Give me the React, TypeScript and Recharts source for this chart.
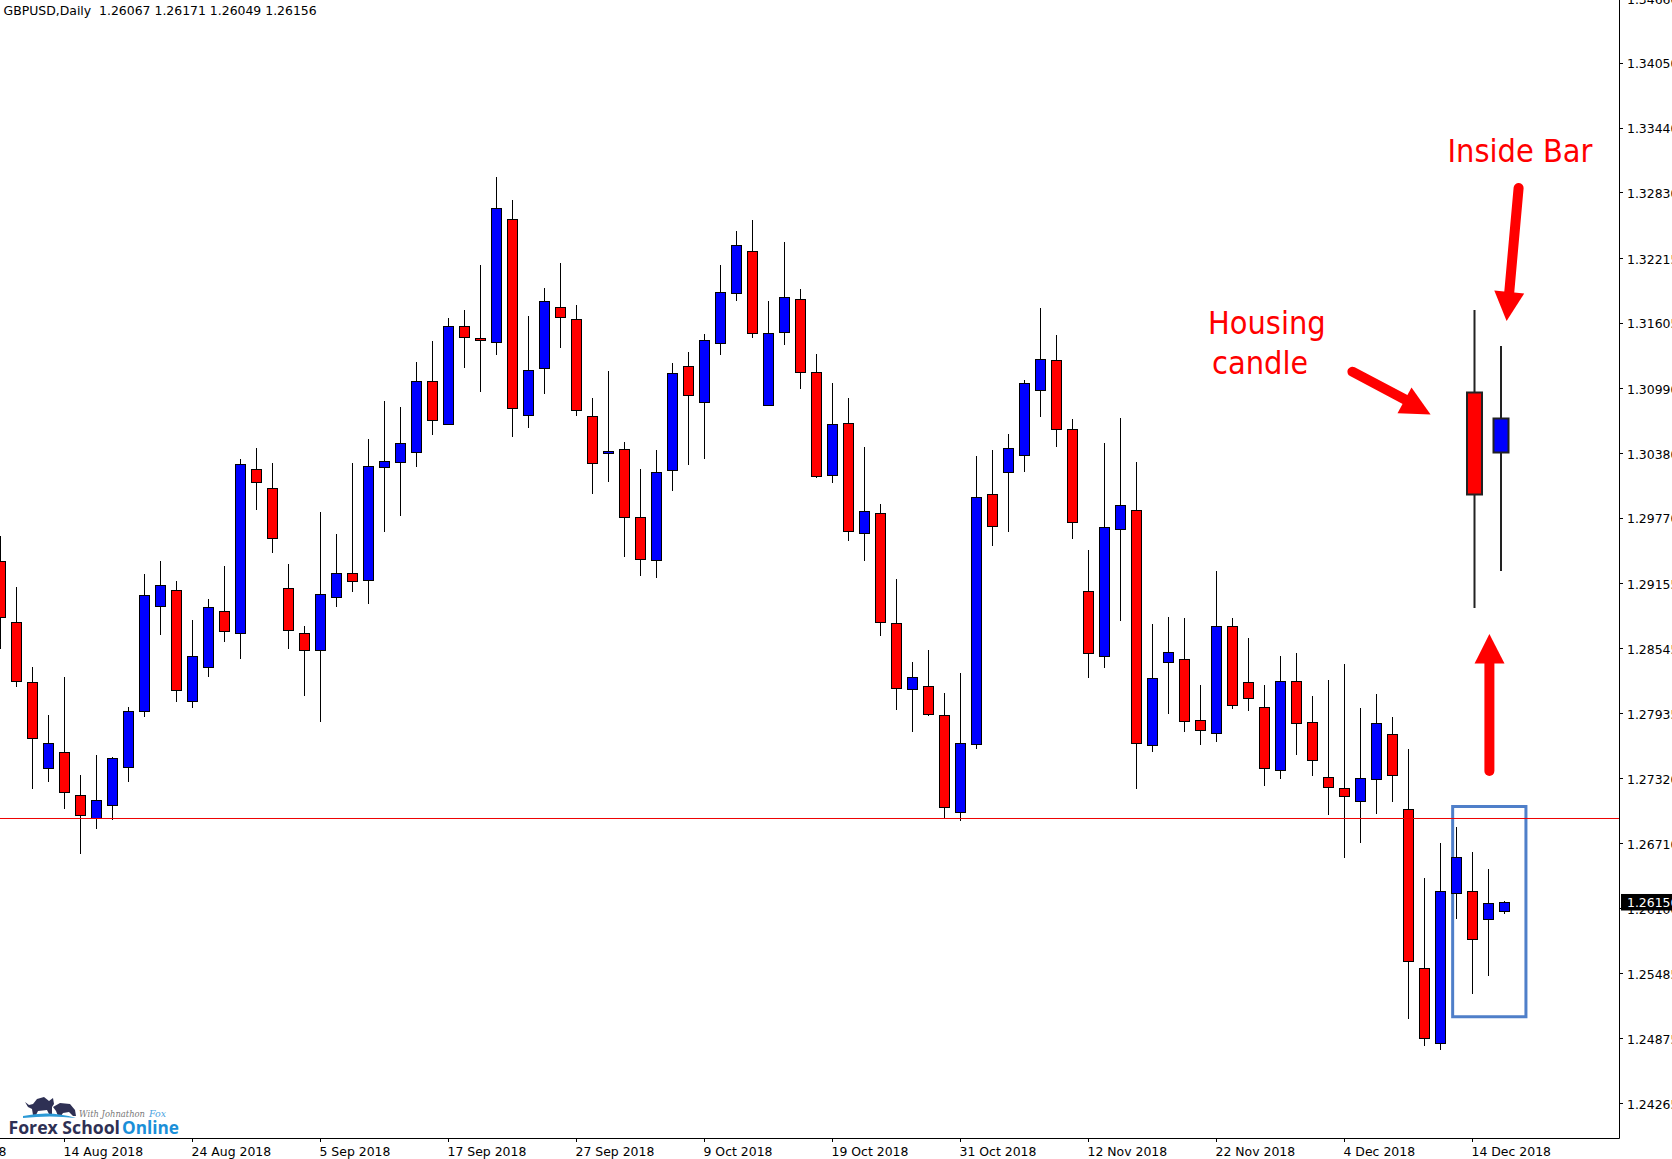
import React from "react";
import { ComposedChart, Bar, XAxis, YAxis, ReferenceLine, ReferenceArea } from "recharts";

const highs = [1.29603,1.29124,1.28371,1.2792,1.28277,1.27355,1.27543,1.27529,1.27995,1.29246,1.29368,1.2918,1.28813,1.29011,1.29321,1.30328,1.30431,1.3029,1.2934,1.28757,1.29829,1.29622,1.3029,1.30516,1.30873,1.30817,1.3124,1.31438,1.31654,1.31729,1.32152,1.3298,1.32764,1.31673,1.31936,1.32171,1.31776,1.30901,1.31155,1.30484,1.30234,1.30412,1.31231,1.31336,1.31503,1.32152,1.32472,1.32576,1.31814,1.32369,1.31929,1.31315,1.31043,1.30901,1.30441,1.29904,1.29199,1.28418,1.28531,1.28127,1.28315,1.30356,1.30412,1.30563,1.31071,1.31748,1.31494,1.30704,1.29472,1.30478,1.30713,1.30299,1.28776,1.28841,1.28832,1.28202,1.29274,1.28832,1.28644,1.28202,1.28475,1.28505,1.28098,1.28249,1.28399,1.27986,1.28117,1.27901,1.276,1.26387,1.26716,1.26868,1.26631,1.26471,1.26171];
const lows = [1.28541,1.28183,1.27224,1.2729,1.27036,1.26612,1.26847,1.26932,1.2729,1.27901,1.28672,1.28042,1.27986,1.28277,1.28609,1.28449,1.2985,1.29444,1.28543,1.28102,1.27849,1.28939,1.29077,1.28964,1.29645,1.29794,1.30252,1.30556,1.30651,1.31186,1.3096,1.31304,1.30538,1.30619,1.30943,1.31374,1.30732,1.29998,1.30111,1.29406,1.29227,1.29211,1.30027,1.30274,1.30324,1.31306,1.31814,1.31462,1.30828,1.314,1.30988,1.30149,1.30102,1.29556,1.29368,1.28663,1.27969,1.2776,1.2791,1.26951,1.26919,1.276,1.29509,1.29641,1.30205,1.30723,1.30441,1.29575,1.28271,1.28362,1.28807,1.27224,1.27576,1.27929,1.2776,1.27638,1.27666,1.27976,1.27953,1.27255,1.2732,1.27543,1.27347,1.26979,1.26577,1.26716,1.2699,1.27101,1.25062,1.24802,1.24772,1.26001,1.25295,1.25461,1.26049];
const opens = [1.29359,1.28785,1.28221,1.27412,1.27567,1.27167,1.26945,1.27068,1.27425,1.27953,1.28939,1.29095,1.28047,1.28366,1.28894,1.28686,1.30229,1.30052,1.2911,1.28686,1.28526,1.29026,1.29252,1.29183,1.30247,1.30295,1.30386,1.31058,1.30654,1.31576,1.31465,1.31423,1.32581,1.30734,1.31175,1.31748,1.31639,1.30727,1.30375,1.30416,1.29778,1.29371,1.3022,1.31198,1.30857,1.31411,1.31882,1.32281,1.30832,1.31517,1.31827,1.31143,1.30173,1.3066,1.29627,1.29816,1.28778,1.28158,1.28187,1.27914,1.27003,1.27641,1.29993,1.30198,1.30361,1.30971,1.31256,1.30605,1.29081,1.28468,1.29665,1.29843,1.27635,1.28413,1.28443,1.27868,1.27746,1.28753,1.28225,1.27991,1.27397,1.28236,1.27849,1.27332,1.27228,1.27105,1.27312,1.27738,1.27033,1.25538,1.24829,1.26239,1.26262,1.25993,1.26067];
const closes = [1.28832,1.2823,1.27694,1.27656,1.27186,1.2697,1.27116,1.27511,1.27953,1.29039,1.29133,1.28151,1.28471,1.28933,1.28703,1.30278,1.30104,1.29578,1.28714,1.28526,1.29054,1.29252,1.29171,1.30257,1.30306,1.30476,1.31058,1.30689,1.31576,1.31468,1.3144,1.32686,1.308,1.31162,1.31809,1.31658,1.30782,1.30286,1.304,1.29778,1.29383,1.30203,1.3113,1.30925,1.31441,1.31895,1.32336,1.31508,1.31508,1.31849,1.31138,1.3016,1.30651,1.29644,1.29833,1.28787,1.2817,1.28275,1.27923,1.27049,1.27654,1.29967,1.29695,1.30425,1.31038,1.31265,1.30605,1.29728,1.28497,1.29686,1.29891,1.2765,1.28263,1.28509,1.27857,1.27772,1.28753,1.2801,1.28075,1.27416,1.28236,1.27837,1.27493,1.27236,1.27151,1.27323,1.27842,1.27351,1.25599,1.24875,1.26262,1.2658,1.25806,1.26147,1.26156];

const xTickIndex = [0, 4, 12, 20, 28, 36, 44, 52, 60, 68, 76, 84, 92];
const xTickLabels = ["8", "14 Aug 2018", "24 Aug 2018", "5 Sep 2018", "17 Sep 2018", "27 Sep 2018", "9 Oct 2018", "19 Oct 2018", "31 Oct 2018", "12 Nov 2018", "22 Nov 2018", "4 Dec 2018", "14 Dec 2018"];
const yTicks = [1.3466,1.3405,1.3344,1.3283,1.32215,1.31605,1.3099,1.3038,1.2977,1.29155,1.28545,1.27935,1.2732,1.2671,1.261,1.25485,1.24875,1.24265];
const lastPrice = 1.26156;
const supportLevel = 1.26946;
const boxPrices = [1.27059, 1.25082];
const boxIndex = [90.76, 95.34];
const insetIndex = [92, 93];

const FONT = "'DejaVu Sans', sans-serif";
const LABEL_SIZE = 12.45;
const rows = highs.map((h, i) => ({ i, high: h, low: lows[i], open: opens[i], close: closes[i], range: [lows[i], h] }));
const insetRows = insetIndex.map((i) => rows[i]);

const snap = (v: number) => Math.round(v - 0.5) + 0.5;

function candle(half: number, stroke: string, sw: number) {
  return (p: any) => {
    const { x, y, width, height, payload } = p;
    const k = height / (payload.high - payload.low);
    const cx = x + width / 2;
    const yTop = y + (payload.high - Math.max(payload.open, payload.close)) * k;
    const yBot = y + (payload.high - Math.min(payload.open, payload.close)) * k;
    const up = payload.close >= payload.open;
    const sy = snap(yTop);
    const by = Math.max(snap(yBot), sy + 1);
    return (
      <g>
        <line x1={cx} x2={cx} y1={Math.round(y)} y2={Math.round(y + height)} stroke={stroke} strokeWidth={sw} />
        <rect x={cx - half} y={sy} width={half * 2} height={by - sy} fill={up ? "#0000ff" : "#ff0000"} stroke={stroke} strokeWidth={sw} />
      </g>
    );
  };
}

const XTick = (p: any) => {
  const idx = xTickIndex.indexOf(p.payload.value);
  const isFirst = idx === 0;
  return (
    <g>
      {!isFirst && <line x1={p.x} x2={p.x} y1={1138.5} y2={1142} stroke="#000" />}
      <text x={isFirst ? -1.5 : p.x - 1} y={1155.5} fontFamily={FONT} fontSize={LABEL_SIZE} fill="#000">{xTickLabels[idx]}</text>
    </g>
  );
};

const YTick = (p: any) => {
  const v = p.payload.value;
  if (v === lastPrice) {
    return (
      <g>
        <rect x={1621} y={p.y - 8.5} width={51} height={16.5} fill="#000" />
        <text x={1627} y={p.y + 4.5} fontFamily={FONT} fontSize={LABEL_SIZE} fill="#fff">{v.toFixed(5)}</text>
      </g>
    );
  }
  return (
    <g>
      <line x1={1619.5} x2={1623} y1={snap(p.y)} y2={snap(p.y)} stroke="#000" />
      <text x={1627} y={p.y + 5.2} fontFamily={FONT} fontSize={LABEL_SIZE} fill="#000">{v.toFixed(5)}</text>
    </g>
  );
};

const ann = { fontFamily: "'DejaVu Sans', sans-serif", fontStretch: "condensed" as const, fill: "#ff0000", fontSize: 32.2 };

export default function App() {
  return (
    <div style={{ position: "absolute", left: 0, top: 0, width: 1672, height: 1159, background: "#fff", overflow: "hidden" }}>
      <ComposedChart
        width={1672}
        height={1159}
        data={rows}
        margin={{ top: 0, right: 0, bottom: 0, left: 0 }}
        barCategoryGap={0}
      >
        <XAxis
          dataKey="i"
          type="number"
          domain={[-0.03125, 101.1875]}
          ticks={xTickIndex}
          interval={0}
          height={20.5}
          stroke="#000"
          tickLine={false}
          tick={XTick}
          allowDataOverflow
        />
        <YAxis
          orientation="right"
          type="number"
          domain={[1.23936, 1.34645]}
          ticks={[...yTicks, lastPrice]}
          interval={0}
          width={52.5}
          stroke="#000"
          tickLine={false}
          tick={YTick}
          allowDataOverflow
        />
        <ReferenceLine y={supportLevel} stroke="#ee0000" strokeWidth={1} />
        <Bar dataKey="range" barSize={10} isAnimationActive={false} shape={candle(5, "#000", 1)} />
        <ReferenceArea x1={boxIndex[0]} x2={boxIndex[1]} y1={boxPrices[0]} y2={boxPrices[1]} fill="none" fillOpacity={0} stroke="#4f7fc9" strokeWidth={3} strokeOpacity={1} />
      </ComposedChart>

      <div style={{ position: "absolute", left: 1461, top: 300, width: 53, height: 320 }}>
        <ComposedChart width={53} height={320} data={insetRows} margin={{ top: 0, right: 0, bottom: 0, left: 0 }}>
          <XAxis dataKey="i" type="category" hide />
          <YAxis type="number" domain={[1.25241, 1.26678]} hide allowDataOverflow />
          <Bar dataKey="range" barSize={15} isAnimationActive={false} shape={candle(7.5, "#222", 2)} />
        </ComposedChart>
      </div>

      <svg width={1672} height={1159} style={{ position: "absolute", left: 0, top: 0, pointerEvents: "none" }}>
        <defs>
          <clipPath id="candleClip"><rect x={1200} y={330} width={106.6} height={60} /></clipPath>
        </defs>
        <text x={3.5} y={14.5} fontFamily={FONT} fontSize={LABEL_SIZE} fill="#000" xmlSpace="preserve">GBPUSD,Daily  1.26067 1.26171 1.26049 1.26156</text>

        <text {...ann} x={1447.5} y={162}>Inside Bar</text>
        <text {...ann} x={1208} y={334}>Housing</text>
        <text {...ann} x={1212} y={373.7} clipPath="url(#candleClip)">candles</text>

        <g stroke="#ff0000" strokeWidth={10} strokeLinecap="round" fill="none">
          <line x1={1518.6} y1={188} x2={1509} y2={295} />
          <line x1={1352.4} y1={371.7} x2={1406} y2={400} />
          <line x1={1489.4} y1={771} x2={1489.4} y2={660} />
        </g>
        <g fill="#ff0000">
          <polygon points="1494.3,290.6 1524.2,293.4 1506.6,321" />
          <polygon points="1411.5,387.5 1397.5,413.2 1430.6,414.4" />
          <polygon points="1489.4,634 1474.6,663.4 1504.5,663.4" />
        </g>

        <g>
          <path d="M25 1102 L29 1105 L33 1104 L37 1099 L44 1097 L49 1101 L53 1098 L54 1104 L52 1107 L52 1114 L49 1114 L47 1110 L38 1111 L36 1115 L33 1115 L32 1109 L28 1107 Z" fill="#2e3054" />
          <path d="M53 1107 L60 1103 L70 1104 L75 1110 L76 1116 L73 1116 L69 1112 L63 1113 L61 1116 L58 1116 L56 1111 Z" fill="#2e3054" />
          <path d="M23 1116 Q50 1110 76 1118 Q50 1115 23 1118 Z" fill="#2c9ad6" />
          <text x={79} y={1117} fontFamily="'DejaVu Serif', serif" fontStyle="italic" fontSize={10} fill="#777" textLength={66} lengthAdjust="spacingAndGlyphs">With Johnathon</text>
          <text x={149} y={1117} fontFamily="'DejaVu Serif', serif" fontStyle="italic" fontSize={10} fill="#4aa3df" textLength={17} lengthAdjust="spacingAndGlyphs">Fox</text>
          <text x={8.5} y={1134} fontFamily="'Open Sans', sans-serif" fontWeight={700} fontSize={17} fill="#2e3054" textLength={111.5} lengthAdjust="spacingAndGlyphs">Forex School</text>
          <text x={122} y={1134} fontFamily="'Open Sans', sans-serif" fontWeight={700} fontSize={17} fill="#1a8fd8" textLength={57} lengthAdjust="spacingAndGlyphs">Online</text>
        </g>
      </svg>
    </div>
  );
}
